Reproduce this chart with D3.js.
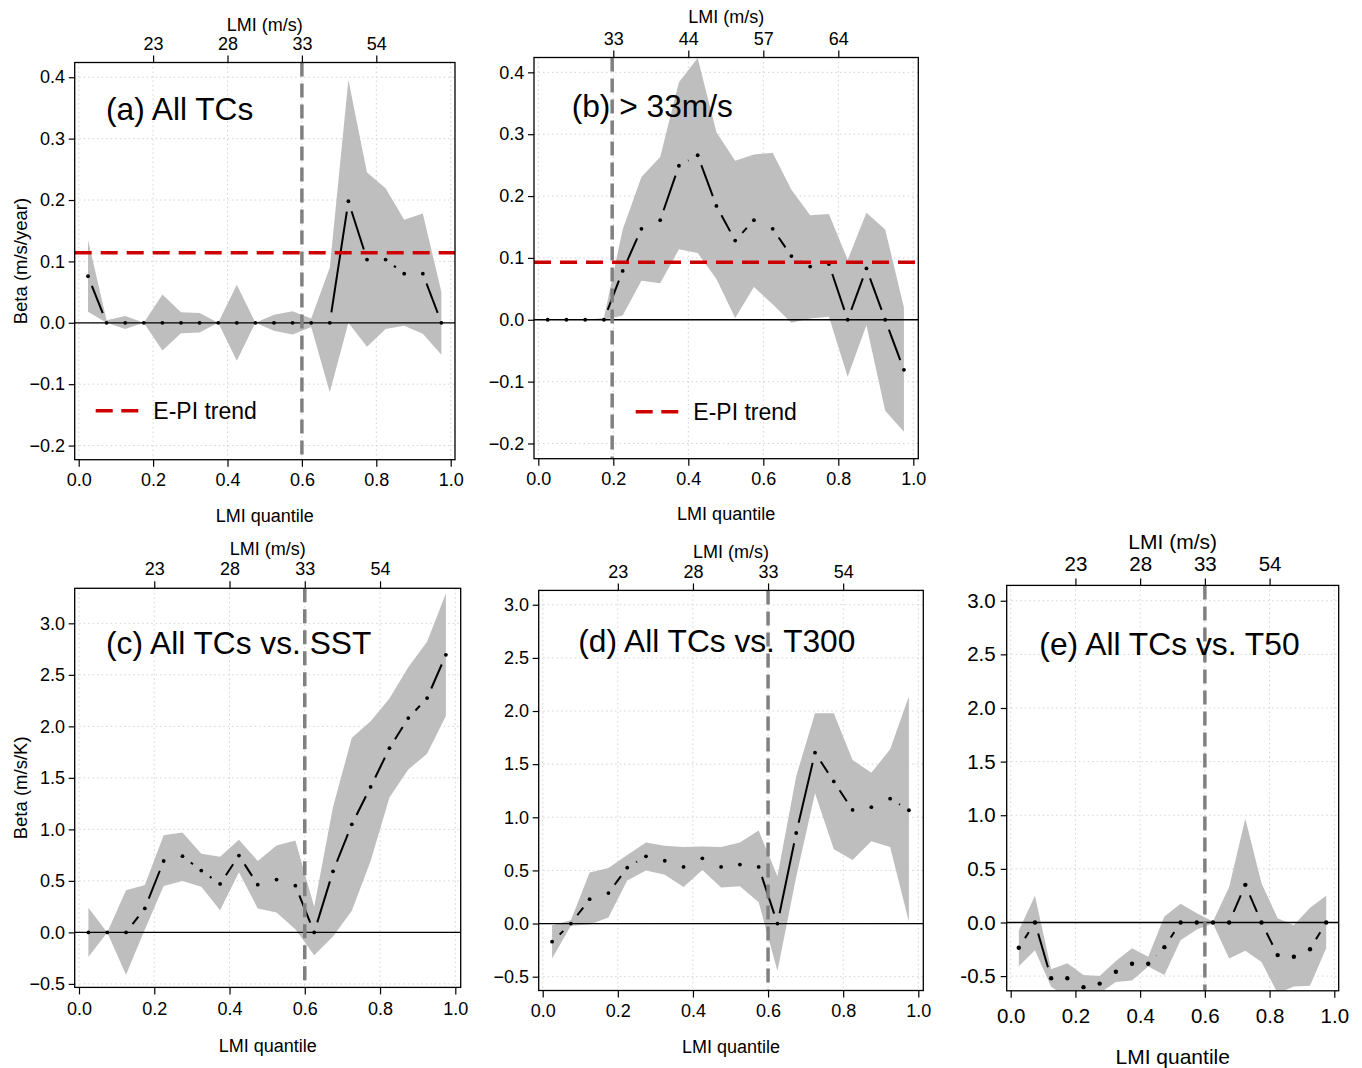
<!DOCTYPE html>
<html lang="en">
<head>
<meta charset="UTF-8">
<title>Beta vs LMI quantile</title>
<style>
  body { margin: 0; background: #fff; }
  svg { display: block; font-family: "Liberation Sans", Arial, Helvetica, sans-serif; }
</style>
</head>
<body>
<svg id="chart" width="1362" height="1068"></svg>
<script src="https://d3js.org/d3.v7.min.js"></script>
<script>
// LMI quantile bin centres (20 bins)
var quantiles = [0.025, 0.075, 0.125, 0.175, 0.225, 0.275, 0.325, 0.375, 0.425, 0.475,
                 0.525, 0.575, 0.625, 0.675, 0.725, 0.775, 0.825, 0.875, 0.925, 0.975];

var xTicks = [0, 0.2, 0.4, 0.6, 0.8, 1.0];
var xTickLabels = ['0.0', '0.2', '0.4', '0.6', '0.8', '1.0'];
var topTicks = [0.2, 0.4, 0.6, 0.8];
var lmiLabelsAll = ['23', '28', '33', '54'];
var lmiLabelsStrong = ['33', '44', '57', '64'];

var yTicksTrend = [-0.2, -0.1, 0, 0.1, 0.2, 0.3, 0.4];
var yLabelsTrend = ['\u22120.2', '\u22120.1', '0.0', '0.1', '0.2', '0.3', '0.4'];
var yTicksSens = [-0.5, 0, 0.5, 1.0, 1.5, 2.0, 2.5, 3.0];
var yLabelsSens = ['\u22120.5', '0.0', '0.5', '1.0', '1.5', '2.0', '2.5', '3.0'];
var yLabelsSensE = ['-0.5', '0.0', '0.5', '1.0', '1.5', '2.0', '2.5', '3.0'];

// (a) All TCs, trend (m/s/year)
var betaA  = [0.076, 0, 0, 0, 0, 0, 0, 0, 0, 0, 0, 0, 0, 0, 0.198, 0.103, 0.103, 0.08, 0.08, 0];
var upperA = [0.135, 0.004, 0.011, 0, 0.046, 0.017, 0.016, 0, 0.062, 0, 0.013, 0.019, 0.007, 0.09, 0.396, 0.245, 0.219, 0.168, 0.178, 0.05];
var lowerA = [0.018, 0, -0.01, 0, -0.045, -0.017, -0.016, 0, -0.062, 0, -0.013, -0.019, -0.007, -0.113, 0, -0.039, -0.01, -0.005, -0.018, -0.052];

// (b) > 33 m/s
var betaB  = [0, 0, 0, 0, 0.079, 0.147, 0.161, 0.249, 0.266, 0.184, 0.128, 0.161, 0.147, 0.103, 0.086, 0.09, 0, 0.083, 0, -0.081];
var upperB = [0, 0, 0, 0.003, 0.146, 0.231, 0.263, 0.384, 0.423, 0.303, 0.257, 0.267, 0.27, 0.21, 0.169, 0.171, 0.097, 0.173, 0.146, 0.02];
var lowerB = [0, 0, 0, 0, 0.007, 0.063, 0.059, 0.114, 0.108, 0.066, 0.003, 0.053, 0.025, -0.005, 0.002, 0.005, -0.092, -0.009, -0.147, -0.181];

// (c) All TCs vs. SST (m/s/K)
var betaC  = [0, 0, 0, 0.233, 0.693, 0.74, 0.6, 0.47, 0.746, 0.463, 0.513, 0.453, 0, 0.593, 1.049, 1.412, 1.788, 2.08, 2.274, 2.694];
var upperC = [0.24, 0, 0.41, 0.46, 0.942, 0.97, 0.763, 0.733, 0.9, 0.693, 0.843, 0.893, 0.25, 1.216, 1.89, 2.05, 2.27, 2.574, 2.82, 3.29];
var lowerC = [-0.24, 0, -0.41, 0.027, 0.45, 0.5, 0.443, 0.216, 0.583, 0.233, 0.193, 0.03, -0.223, -0.04, 0.21, 0.693, 1.31, 1.58, 1.735, 2.1];

// (d) All TCs vs. T300
var betaD  = [-0.171, 0, 0.229, 0.287, 0.526, 0.633, 0.591, 0.533, 0.614, 0.533, 0.555, 0.533, 0, 0.852, 1.608, 1.337, 1.069, 1.095, 1.175, 1.066];
var upperD = [-0.016, 0.03, 0.481, 0.523, 0.646, 0.762, 0.733, 0.72, 0.726, 0.72, 0.762, 0.875, 0.446, 1.388, 1.98, 1.98, 1.54, 1.418, 1.64, 2.14];
var lowerD = [-0.33, -0.02, -0.01, 0.058, 0.404, 0.5, 0.459, 0.345, 0.504, 0.339, 0.352, 0.2, -0.446, 0.44, 1.227, 0.7, 0.597, 0.775, 0.72, 0.016];

// (e) All TCs vs. T50
var betaE  = [-0.236, 0, -0.52, -0.52, -0.603, -0.57, -0.46, -0.385, -0.385, -0.23, 0, 0, 0, 0, 0.351, 0, -0.304, -0.32, -0.249, 0];
var upperE = [-0.075, 0.25, -0.435, -0.38, -0.49, -0.5, -0.36, -0.24, -0.32, 0.056, 0.174, 0.087, 0.01, 0.33, 0.967, 0.365, 0.04, -0.026, 0.137, 0.25];
var lowerE = [-0.407, -0.26, -0.6, -0.7, -0.7, -0.66, -0.554, -0.54, -0.41, -0.49, -0.166, -0.065, -0.01, -0.335, -0.264, -0.368, -0.66, -0.596, -0.59, -0.238];

// E-PI trend reference lines
var epiTrendA = 0.114;
var epiTrendB = 0.093;

var svg = d3.select('#chart');
svg.append('rect').attr('width', 1362).attr('height', 1068).attr('fill', '#fff');

var panels = [
  { id: 'a', title: '(a) All TCs', beta: betaA, upper: upperA, lower: lowerA,
    yTicks: yTicksTrend, yLabels: yLabelsTrend, lmi: lmiLabelsAll, threshold: 0.6, epi: epiTrendA,
    yTitle: 'Beta (m/s/year)',
    box: [74.7, 62.5, 455, 459.7], x0: 78.7, x1: 450.7, yDomain: [-0.223, 0.424],
    titlePos: [106, 120], titleFs: 31.7, fs: 18, axisFs: 18,
    topTitle: 38, bottomTitle: 56, bottomPad: 6.5, topPad: 5.5, leftPad: 3.7,
    legend: [95.7, 138.3, 410.7, 153.3], legendFs: 23, gap: 10.5, r: 1.9 },
  { id: 'b', title: '(b) > 33m/s', beta: betaB, upper: upperB, lower: lowerB,
    yTicks: yTicksTrend, yLabels: yLabelsTrend, lmi: lmiLabelsStrong, threshold: 0.197, epi: epiTrendB,
    yTitle: null,
    box: [534, 57.5, 918.3, 458.7], x0: 538.3, x1: 913.3, yDomain: [-0.2246, 0.424],
    titlePos: [571.7, 116.6], titleFs: 31.7, fs: 18, axisFs: 18,
    topTitle: 40.6, bottomTitle: 55, bottomPad: 7, topPad: 6, leftPad: 3.7,
    legend: [635.7, 679, 411.7, 693.3], legendFs: 23, gap: 10.5, r: 1.9 },
  { id: 'c', title: '(c) All TCs vs. SST', beta: betaC, upper: upperC, lower: lowerC,
    yTicks: yTicksSens, yLabels: yLabelsSens, lmi: lmiLabelsAll, threshold: 0.6, epi: null,
    yTitle: 'Beta (m/s/K)',
    box: [74.7, 588.3, 460.7, 987.4], x0: 79, x1: 455.3, yDomain: [-0.534, 3.34],
    titlePos: [106, 653.5], titleFs: 31.7, fs: 18, axisFs: 18,
    topTitle: 39.4, bottomTitle: 58, bottomPad: 7.5, topPad: 6.5, leftPad: 3.7,
    legend: null, gap: 10.5, r: 1.9 },
  { id: 'd', title: '(d) All TCs vs. T300', beta: betaD, upper: upperD, lower: lowerD,
    yTicks: yTicksSens, yLabels: yLabelsSens, lmi: lmiLabelsAll, threshold: 0.6, epi: null,
    yTitle: null,
    box: [538.7, 590.4, 923.3, 990.5], x0: 542.7, x1: 918.3, yDomain: [-0.63, 3.135],
    titlePos: [578.3, 651.8], titleFs: 31.7, fs: 18, axisFs: 18,
    topTitle: 39.1, bottomTitle: 56, bottomPad: 6.5, topPad: 5.5, leftPad: 3.7,
    legend: null, gap: 10.5, r: 1.9 },
  { id: 'e', title: '(e) All TCs vs. T50', beta: betaE, upper: upperE, lower: lowerE,
    yTicks: yTicksSens, yLabels: yLabelsSensE, lmi: lmiLabelsAll, threshold: 0.6, epi: null,
    yTitle: null,
    box: [1006.7, 585.4, 1338.7, 990.8], x0: 1010.7, x1: 1334.3, yDomain: [-0.637, 3.143],
    titlePos: [1039.3, 654.6], titleFs: 31.8, fs: 20.5, axisFs: 21,
    topTitle: 43.7, bottomTitle: 66, bottomPad: 10.5, topPad: 7.3, leftPad: 5,
    legend: null, gap: 11.5, r: 2.2 }
];

function drawPanel(p) {
  var L = p.box[0], T = p.box[1], R = p.box[2], B = p.box[3];
  var g = svg.append('g').attr('class', 'panel-' + p.id);

  var x = d3.scaleLinear().domain([0, 1]).range([p.x0, p.x1]);
  var y = d3.scaleLinear().domain(p.yDomain).range([B, T]);

  svg.append('clipPath').attr('id', 'clip-' + p.id)
    .append('rect').attr('x', L).attr('y', T).attr('width', R - L).attr('height', B - T);
  var plot = g.append('g').attr('clip-path', 'url(#clip-' + p.id + ')');

  // dotted grid
  plot.selectAll('.gx').data(xTicks).enter().append('line')
    .attr('x1', d => x(d)).attr('x2', d => x(d)).attr('y1', T).attr('y2', B)
    .attr('stroke', '#d3d3d3').attr('stroke-width', 1).attr('stroke-dasharray', '1.5,3');
  plot.selectAll('.gy').data(p.yTicks).enter().append('line')
    .attr('x1', L).attr('x2', R).attr('y1', d => y(d)).attr('y2', d => y(d))
    .attr('stroke', '#d3d3d3').attr('stroke-width', 1).attr('stroke-dasharray', '1.5,3');

  // confidence band
  var area = d3.area()
    .x((d, i) => x(quantiles[i]))
    .y0((d, i) => y(p.lower[i]))
    .y1((d, i) => y(p.upper[i]));
  plot.append('path').datum(p.beta).attr('d', area).attr('fill', '#bebebe');

  // zero line
  plot.append('line').attr('x1', L).attr('x2', R).attr('y1', y(0)).attr('y2', y(0))
    .attr('stroke', '#000').attr('stroke-width', 1.3);

  // panel title
  g.append('text').attr('x', p.titlePos[0]).attr('y', p.titlePos[1])
    .attr('font-size', p.titleFs).attr('fill', '#000').text(p.title);

  // beta: points joined by gapped segments (R type = "b")
  var pts = p.beta.map((v, i) => [x(quantiles[i]), y(v)]);
  var segs = [];
  for (var i = 1; i < pts.length; i++) {
    var dx = pts[i][0] - pts[i - 1][0], dy = pts[i][1] - pts[i - 1][1];
    var len = Math.sqrt(dx * dx + dy * dy);
    if (len > 2 * p.gap) {
      var ux = dx / len, uy = dy / len;
      segs.push([pts[i - 1][0] + ux * p.gap, pts[i - 1][1] + uy * p.gap,
                 pts[i][0] - ux * p.gap, pts[i][1] - uy * p.gap]);
    }
  }
  plot.selectAll('.seg').data(segs).enter().append('line')
    .attr('x1', d => d[0]).attr('y1', d => d[1]).attr('x2', d => d[2]).attr('y2', d => d[3])
    .attr('stroke', '#000').attr('stroke-width', 2);
  plot.selectAll('.pt').data(p.beta).enter().append('circle')
    .attr('cx', (d, i) => x(quantiles[i])).attr('cy', d => y(d)).attr('r', p.r).attr('fill', '#000');

  // E-PI trend
  if (p.epi !== null) {
    plot.append('line').attr('x1', L).attr('x2', R).attr('y1', y(p.epi)).attr('y2', y(p.epi))
      .attr('stroke', '#cd0000').attr('stroke-width', 3.6).attr('stroke-dasharray', '17,9');
  }

  // LMI threshold
  plot.append('line').attr('x1', x(p.threshold)).attr('x2', x(p.threshold)).attr('y1', T).attr('y2', B)
    .attr('stroke', '#808080').attr('stroke-width', 3.5).attr('stroke-dasharray', '14,7');

  // legend
  if (p.legend) {
    g.append('line').attr('x1', p.legend[0]).attr('x2', p.legend[1])
      .attr('y1', p.legend[2]).attr('y2', p.legend[2])
      .attr('stroke', '#cd0000').attr('stroke-width', 3.6).attr('stroke-dasharray', '17,8.6');
    g.append('text').attr('x', p.legend[3]).attr('y', p.legend[2]).attr('dy', '0.36em')
      .attr('font-size', p.legendFs).text('E-PI trend');
  }

  // box
  g.append('rect').attr('x', L).attr('y', T).attr('width', R - L).attr('height', B - T)
    .attr('fill', 'none').attr('stroke', '#000').attr('stroke-width', 1.3);

  // axes
  var ax = [
    g.append('g').attr('transform', 'translate(0,' + B + ')')
      .call(d3.axisBottom(x).tickValues(xTicks).tickFormat((d, i) => xTickLabels[i])
        .tickSize(7).tickSizeOuter(0).tickPadding(p.bottomPad)),
    g.append('g').attr('transform', 'translate(0,' + T + ')')
      .call(d3.axisTop(x).tickValues(topTicks).tickFormat((d, i) => p.lmi[i])
        .tickSize(7).tickSizeOuter(0).tickPadding(p.topPad)),
    g.append('g').attr('transform', 'translate(' + L + ',0)')
      .call(d3.axisLeft(y).tickValues(p.yTicks).tickFormat((d, i) => p.yLabels[i])
        .tickSize(6).tickSizeOuter(0).tickPadding(p.leftPad))
  ];
  ax.forEach(function(a) {
    a.select('.domain').remove();
    a.selectAll('line').attr('stroke', '#000').attr('stroke-width', 1.2);
    a.selectAll('text').attr('font-size', p.fs).attr('fill', '#000')
      .attr('font-family', '"Liberation Sans", Arial, sans-serif');
  });

  // axis titles
  var cx = (L + R) / 2;
  g.append('text').attr('x', cx).attr('y', T - p.topTitle).attr('dy', '0.36em')
    .attr('text-anchor', 'middle').attr('font-size', p.axisFs).text('LMI (m/s)');
  g.append('text').attr('x', cx).attr('y', B + p.bottomTitle).attr('dy', '0.36em')
    .attr('text-anchor', 'middle').attr('font-size', p.axisFs).text('LMI quantile');
  if (p.yTitle) {
    g.append('text').attr('transform', 'translate(20,' + ((T + B) / 2) + ') rotate(-90)')
      .attr('dy', '0.36em').attr('text-anchor', 'middle').attr('font-size', 18.5).text(p.yTitle);
  }
}

panels.forEach(drawPanel);
</script>
</body>
</html>
